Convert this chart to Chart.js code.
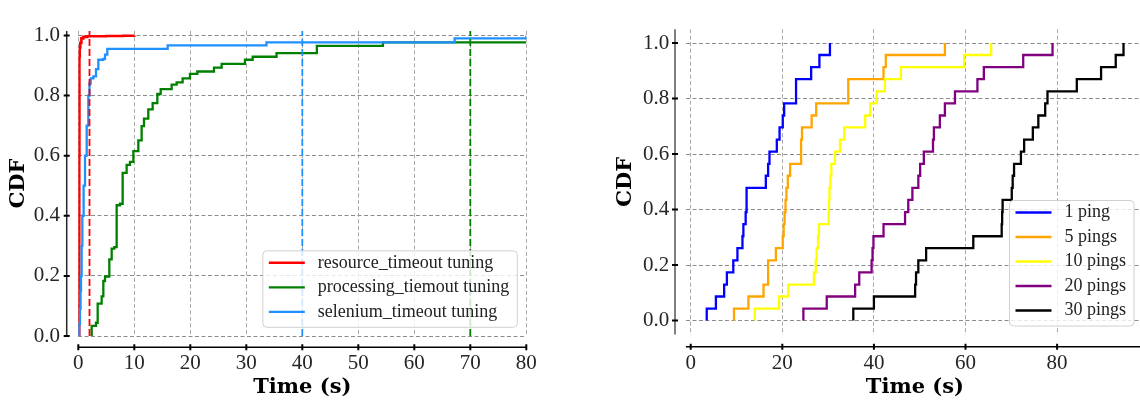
<!DOCTYPE html>
<html>
<head>
<meta charset="utf-8">
<script src="https://cdn.jsdelivr.net/npm/chart.js@4.4.0/dist/chart.umd.min.js"></script>
<style>
    html, body { margin: 0; padding: 0; background: #fff; overflow: hidden; width: 1140px; height: 405px; }
    #chartTimeouts { position: absolute; left: 0; top: 0; }
    #chartPings { position: absolute; left: 590px; top: 0; }
</style>
</head>
<body>
<canvas id="chartTimeouts" width="560" height="405"></canvas>
<canvas id="chartPings" width="570" height="405"></canvas>
<script>
// ---- panel izquierdo: ajuste de timeouts ----
const etiquetasTimeouts = ['resource_timeout tuning', 'processing_tiemout tuning', 'selenium_timeout tuning'];
const coloresTimeouts = ['#ff0000', '#008000', '#1e90ff'];

const tResource   = [0.15, 0.17, 0.2, 0.25, 0.35, 0.55, 0.9, 1.6, 5, 8, 10];
const cdfResource = [0, 0.6, 0.93, 0.96, 0.975, 0.99, 0.995, 0.997, 0.998, 0.999, 1.0];

const tProcessing   = [2.39, 2.39, 3.16, 3.46, 4.17, 4.47, 4.77, 5.54, 5.96, 6.43, 6.85, 7.45, 7.92, 8.63, 9.23, 9.83,
                       10.72, 11.31, 11.73, 12.5, 13.28, 14.11, 14.71, 16.67, 17.56, 18.63, 19.94, 21.25, 24.23, 25.6,
                       29.76, 31.13, 35.4, 42.6, 54.4, 80];
const cdfProcessing = [0, 0.034, 0.044, 0.108, 0.132, 0.183, 0.198, 0.255, 0.291, 0.296, 0.435, 0.44, 0.543, 0.569, 0.579, 0.615,
                       0.651, 0.698, 0.723, 0.754, 0.775, 0.805, 0.821, 0.836, 0.844, 0.857, 0.872, 0.88, 0.893, 0.905,
                       0.919, 0.929, 0.941, 0.965, 0.977, 0.977];

const tSelenium   = [0.02, 0.15, 0.3, 0.4, 0.48, 0.6, 0.72, 0.95, 1.2, 1.5, 1.79, 2.0, 2.21, 2.69, 3.16, 3.58, 4.47, 4.77,
                     5.18, 15.96, 33.6, 67.2, 80];
const cdfSelenium = [0, 0.04, 0.09, 0.15, 0.2, 0.3, 0.4, 0.5, 0.6, 0.7, 0.8, 0.84, 0.857, 0.864, 0.888, 0.919, 0.922, 0.936,
                     0.955, 0.967, 0.977, 0.99, 1.0];

// timeouts marcados con lineas verticales (mismo orden que los colores)
const umbralesTimeouts = [2, 70, 40];

const ticksXIzq = [0, 10, 20, 30, 40, 50, 60, 70, 80];
const ticksYIzq = [0, 0.2, 0.4, 0.6, 0.8, 1.0];

// ---- panel derecho: numero de pings ----
const etiquetasPings = ['1 ping', '5 pings', '10 pings', '20 pings', '30 pings'];
const coloresPings = ['#0000ff', '#ffa500', '#ffff00', '#800080', '#000000'];

const t1Ping  = [3.5, 3.5, 5.5, 7.3, 7.9, 9.3, 10.2, 11.3, 11.5, 12.0, 12.2, 16.4, 16.9, 17.2, 18.8, 19.4, 20.1, 20.4, 23.0, 26.3, 28.1, 30.4];
const cdf1Ping = [0, 0.043, 0.087, 0.13, 0.174, 0.217, 0.261, 0.304, 0.348, 0.391, 0.478, 0.522, 0.565, 0.609, 0.652, 0.696, 0.739, 0.783, 0.87, 0.913, 0.957, 1.0];

const t5Pings   = [9.45, 9.45, 12.6, 15.9, 16.9, 18.6, 20.1, 20.3, 20.5, 20.7, 20.9, 21.2, 21.7, 24.1, 24.3, 26.4, 27.4, 34.4, 42.1, 42.6, 55.5];
const cdf5Pings = [0, 0.043, 0.087, 0.13, 0.217, 0.261, 0.304, 0.348, 0.391, 0.435, 0.478, 0.522, 0.565, 0.652, 0.696, 0.739, 0.783, 0.87, 0.913, 0.957, 1.0];

const t10Pings   = [14.0, 14.0, 19.3, 21.3, 26.9, 27.3, 27.5, 27.8, 28.0, 30.1, 30.2, 30.3, 30.5, 30.7, 31.5, 32.6, 33.5, 38.1, 39.2, 40.6, 42.4, 45.9, 59.7, 65.6];
const cdf10Pings = [0, 0.043, 0.087, 0.13, 0.174, 0.217, 0.261, 0.304, 0.348, 0.391, 0.435, 0.478, 0.522, 0.565, 0.609, 0.652, 0.696, 0.739, 0.783, 0.826, 0.87, 0.913, 0.957, 1.0];

const t20Pings   = [24.6, 24.6, 29.7, 35.9, 36.8, 39.5, 39.7, 39.9, 42.1, 46.8, 47.5, 48.4, 49.7, 50.1, 50.9, 52.9, 53.1, 54.4, 55.5, 57.7, 62.6, 64.0, 72.6, 79.0];
const cdf20Pings = [0, 0.043, 0.087, 0.13, 0.174, 0.217, 0.261, 0.304, 0.348, 0.391, 0.435, 0.478, 0.522, 0.565, 0.609, 0.652, 0.696, 0.739, 0.783, 0.826, 0.87, 0.913, 0.957, 1.0];

const t30Pings   = [35.5, 35.5, 40.0, 49.0, 49.2, 49.7, 51.4, 61.7, 67.9, 68.0, 68.1, 70.1, 70.3, 70.6, 72.1, 72.8, 74.7, 75.9, 77.4, 77.9, 84.3, 89.6, 92.8, 94.5];
const cdf30Pings = [0, 0.043, 0.087, 0.13, 0.174, 0.217, 0.261, 0.304, 0.348, 0.391, 0.435, 0.478, 0.522, 0.565, 0.609, 0.652, 0.696, 0.739, 0.783, 0.826, 0.87, 0.913, 0.957, 1.0];

const ticksXDer = [0, 20, 40, 60, 80];
const ticksYDer = [0, 0.2, 0.4, 0.6, 0.8, 1.0];

const puntos = (ts, cs) => ts.map((t, i) => ({ x: t, y: cs[i] }));

// ejes separados del area de datos (estilo seaborn despine offset)
const ejesSeparados = {
    id: 'ejesSeparados',
    afterDraw(chart, args, opts) {
        const { ctx, chartArea, scales: { x, y } } = chart;
        const yEje = chartArea.bottom + opts.sepX;
        const xEje = chartArea.left - opts.sepY;
        ctx.save();
        ctx.setLineDash([]);

        ctx.strokeStyle = '#000';
        ctx.lineWidth = 1.4;
        ctx.beginPath();
        ctx.moveTo(chartArea.left, yEje);
        ctx.lineTo(chartArea.right, yEje);
        ctx.stroke();
        ctx.lineWidth = 2;
        ctx.beginPath();
        x.ticks.forEach(t => {
            const px = x.getPixelForValue(t.value);
            ctx.moveTo(px, yEje - 3);
            ctx.lineTo(px, yEje + 3);
        });
        ctx.stroke();

        ctx.strokeStyle = opts.colorY;
        ctx.lineWidth = opts.anchoY;
        ctx.beginPath();
        ctx.moveTo(xEje, chartArea.top);
        ctx.lineTo(xEje, chartArea.bottom);
        ctx.stroke();
        ctx.strokeStyle = '#000';
        ctx.lineWidth = 2;
        ctx.beginPath();
        y.ticks.forEach(t => {
            const py = y.getPixelForValue(t.value);
            ctx.moveTo(xEje - 3, py);
            ctx.lineTo(xEje + 3, py);
        });
        ctx.stroke();
        ctx.restore();
    }
};

// leyenda abajo a la derecha, dentro del area de datos
const leyendaDentro = {
    id: 'leyendaDentro',
    afterDatasetsDraw(chart, args, opts) {
        const { ctx, chartArea } = chart;
        const items = chart.data.datasets.filter(d => d.label);
        ctx.save();
        ctx.font = "18px 'Liberation Serif'";
        const anchoTexto = Math.max(...items.map(d => ctx.measureText(d.label).width));
        const ancho = 55 + anchoTexto + 8;
        const alto = 12 + (items.length - 1) * 24.5 + 15.5;
        const x0 = chartArea.right - opts.margenDer - ancho;
        const y0 = chartArea.bottom - opts.margenInf - alto;

        ctx.beginPath();
        ctx.roundRect(x0, y0, ancho, alto, 4);
        ctx.fillStyle = 'rgba(255,255,255,0.8)';
        ctx.fill();
        ctx.strokeStyle = '#d0d0d0';
        ctx.lineWidth = 1;
        ctx.stroke();

        items.forEach((d, i) => {
            const yy = y0 + 12 + i * 24.5;
            ctx.strokeStyle = d.borderColor;
            ctx.lineWidth = d.borderWidth;
            ctx.beginPath();
            ctx.moveTo(x0 + 6, yy);
            ctx.lineTo(x0 + 42, yy);
            ctx.stroke();
            ctx.fillStyle = '#222';
            ctx.textBaseline = 'middle';
            ctx.fillText(d.label, x0 + 55, yy);
        });
        ctx.restore();
    }
};

function crearEscalas(cfg) {
    const fuenteTicks = { family: 'Liberation Serif', size: 21 };
    const fuenteTitulo = { family: 'DejaVu Serif', size: 21, weight: 'bold' };
    return {
        x: {
            type: 'linear',
            min: cfg.xMin,
            max: cfg.xMax,
            afterBuildTicks: s => { s.ticks = cfg.ticksX.map(v => ({ value: v })); },
            afterFit: s => { s.height = cfg.altoX; },
            ticks: { font: fuenteTicks, color: '#262626', padding: cfg.padX, maxRotation: 0, autoSkip: false },
            grid: { color: '#a8a8a8', lineWidth: 1, drawTicks: false, borderDash: [4, 2.5] },
            border: { display: false, dash: [4, 2.5] },
            title: { display: true, text: 'Time (s)', font: fuenteTitulo, color: '#000', padding: { top: 0, bottom: 4.4 } }
        },
        y: {
            type: 'linear',
            min: cfg.yMin,
            max: cfg.yMax,
            afterBuildTicks: s => { s.ticks = cfg.ticksY.map(v => ({ value: v })); },
            afterFit: s => { s.width = cfg.anchoY; },
            ticks: { font: fuenteTicks, color: '#262626', padding: cfg.padY, callback: v => Number(v).toFixed(1) },
            grid: { color: '#8c8c8c', lineWidth: 1, drawTicks: false, borderDash: [4, 2.5] },
            border: { display: false, dash: [4, 2.5] },
            title: { display: true, text: 'CDF', font: fuenteTitulo, color: '#000', padding: { top: cfg.padTituloY, bottom: 0 } }
        }
    };
}

const Y_MIN_IZQ = 0;
const Y_MAX_IZQ = 1.015;

const curvasTimeouts = [
    puntos(tResource, cdfResource),
    puntos(tProcessing, cdfProcessing),
    puntos(tSelenium, cdfSelenium)
];

const datasetsIzq = curvasTimeouts.map((data, i) => ({
    label: etiquetasTimeouts[i],
    data,
    borderColor: coloresTimeouts[i],
    borderWidth: i === 0 ? 2.6 : 2.3,
    stepped: true,
    fill: false,
    pointRadius: 0,
    order: 3 - i
}));

umbralesTimeouts.forEach((u, i) => {
    datasetsIzq.push({
        data: [{ x: u, y: Y_MIN_IZQ }, { x: u, y: Y_MAX_IZQ }],
        borderColor: coloresTimeouts[i],
        borderWidth: 1.8,
        borderDash: [7, 3],
        fill: false,
        pointRadius: 0,
        order: 0
    });
});

new Chart(document.getElementById('chartTimeouts'), {
    type: 'line',
    data: { datasets: datasetsIzq },
    options: {
        responsive: false,
        animation: false,
        devicePixelRatio: 1,
        layout: { padding: { left: 0, top: 7, right: 33.7, bottom: 0 } },
        plugins: {
            legend: { display: false },
            tooltip: { enabled: false },
            ejesSeparados: { sepX: 11.3, sepY: 11.6, colorY: '#262626', anchoY: 1.5 },
            leyendaDentro: { margenDer: 9, margenInf: 8.7 }
        },
        scales: crearEscalas({
            xMin: 0, xMax: 80, yMin: Y_MIN_IZQ, yMax: Y_MAX_IZQ,
            ticksX: ticksXIzq, ticksY: ticksYIzq,
            anchoY: 78.3, altoX: 69, padX: 14.4, padY: 18.3, padTituloY: 5.5
        })
    },
    plugins: [ejesSeparados, leyendaDentro]
});

const curvasPings = [
    puntos(t1Ping, cdf1Ping),
    puntos(t5Pings, cdf5Pings),
    puntos(t10Pings, cdf10Pings),
    puntos(t20Pings, cdf20Pings),
    puntos(t30Pings, cdf30Pings)
];

new Chart(document.getElementById('chartPings'), {
    type: 'line',
    data: {
        datasets: curvasPings.map((data, i) => ({
            label: etiquetasPings[i],
            data,
            borderColor: coloresPings[i],
            borderWidth: 2.3,
            stepped: true,
            fill: false,
            pointRadius: 0,
            order: 5 - i
        }))
    },
    options: {
        responsive: false,
        animation: false,
        devicePixelRatio: 1,
        layout: { padding: { left: 0, top: 0, right: 16.1, bottom: 0 } },
        plugins: {
            legend: { display: false },
            tooltip: { enabled: false },
            ejesSeparados: { sepX: 12.2, sepY: 10.9, colorY: '#808080', anchoY: 2 },
            leyendaDentro: { margenDer: 9.9, margenInf: 8.5 }
        },
        scales: crearEscalas({
            xMin: -1.05, xMax: 98.95, yMin: -0.05, yMax: 1.05,
            ticksX: ticksXDer, ticksY: ticksYDer,
            anchoY: 95.9, altoX: 70.5, padX: 15.9, padY: 16.6, padTituloY: 23
        })
    },
    plugins: [ejesSeparados, leyendaDentro]
});
</script>
</body>
</html>
